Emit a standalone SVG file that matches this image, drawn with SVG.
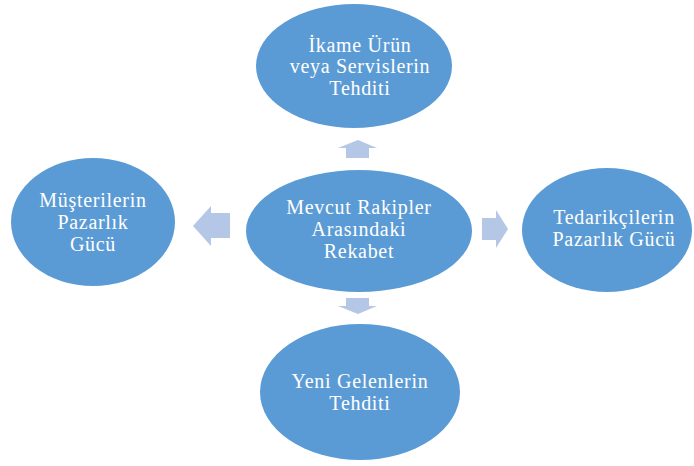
<svg xmlns="http://www.w3.org/2000/svg" width="694" height="466" viewBox="0 0 694 466">
<style>
.n{fill:#5B9BD5}
.a{fill:#B4C7E7}
.t{font-size:20px;fill:#fff;text-anchor:middle;letter-spacing:0.7px}
</style>
<rect width="694" height="466" fill="#fff"/>
<g id="connectors">
<polygon class="a" points="358,140 377,148 369,148 369,158 346,158 346,148 338,148"/>
<polygon class="a" points="193,226 211,206 211,213 230,213 230,238 211,238 211,246"/>
<polygon class="a" points="508,229 496,210 496,218 482,218 482,240 496,240 496,248"/>
<polygon class="a" points="358,314 377,306 369,306 369,298 346,298 346,306 338,306"/>
</g>
<g font-family="Liberation Serif, Times New Roman, serif">
<g id="top"><ellipse class="n" cx="354" cy="66" rx="98" ry="62"/>
<text class="t" x="360" y="52">İkame Ürün</text><text class="t" x="360" y="73">veya Servislerin</text><text class="t" x="360" y="95">Tehditi</text></g>
<g id="center"><ellipse class="n" cx="359" cy="231" rx="113" ry="61"/>
<text class="t" x="359" y="214">Mevcut Rakipler</text><text class="t" x="359" y="236">Arasındaki</text><text class="t" x="359" y="258">Rekabet</text></g>
<g id="left"><ellipse class="n" cx="93" cy="222" rx="82" ry="64"/>
<text class="t" x="93" y="207">Müşterilerin</text><text class="t" x="93" y="229">Pazarlık</text><text class="t" x="93" y="251">Gücü</text></g>
<g id="right"><ellipse class="n" cx="607" cy="230" rx="85" ry="62"/>
<text class="t" x="614" y="224">Tedarikçilerin</text><text class="t" x="614" y="246">Pazarlık Gücü</text></g>
<g id="bottom"><ellipse class="n" cx="360" cy="392" rx="100" ry="68"/>
<text class="t" x="360" y="388">Yeni Gelenlerin</text><text class="t" x="360" y="410">Tehditi</text></g>
</g>
</svg>
